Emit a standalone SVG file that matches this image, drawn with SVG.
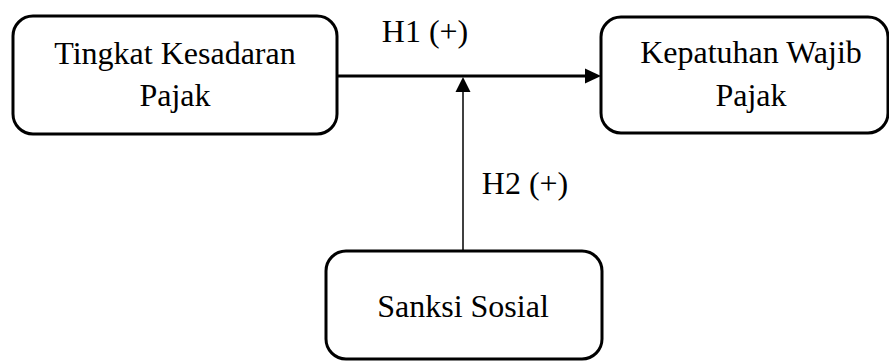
<svg xmlns="http://www.w3.org/2000/svg" width="889" height="361" viewBox="0 0 889 361">
<style>
.box{fill:#fff;stroke:#000;stroke-width:3}
.t{font-family:'Liberation Serif','DejaVu Serif',serif;font-size:32px;fill:#000;text-anchor:middle}
</style>
<rect width="889" height="361" fill="#fff"/>
<g id="connectors">
<line x1="338" y1="76" x2="586" y2="76" stroke="#000" stroke-width="3"/>
<polygon points="601,76 585,68.5 585,83.5" fill="#000"/>
<line x1="463" y1="250" x2="463" y2="91" stroke="#000" stroke-width="1.5"/>
<polygon points="463,77 455.5,92 470.5,92" fill="#000"/>
<text class="t" x="425" y="42">H1 (+)</text>
<text class="t" x="525" y="194">H2 (+)</text>
</g>
<g id="node-tingkat">
<rect class="box" x="13" y="16" width="324" height="118" rx="20"/>
<text class="t" x="175" y="64">Tingkat Kesadaran</text>
<text class="t" x="175" y="106">Pajak</text>
</g>
<g id="node-kepatuhan">
<rect class="box" x="601" y="17" width="287" height="116" rx="20"/>
<text class="t" x="751" y="63">Kepatuhan Wajib</text>
<text class="t" x="751" y="106">Pajak</text>
</g>
<g id="node-sanksi">
<rect class="box" x="326" y="251" width="276" height="108" rx="20"/>
<text class="t" x="463" y="317">Sanksi Sosial</text>
</g>
</svg>
